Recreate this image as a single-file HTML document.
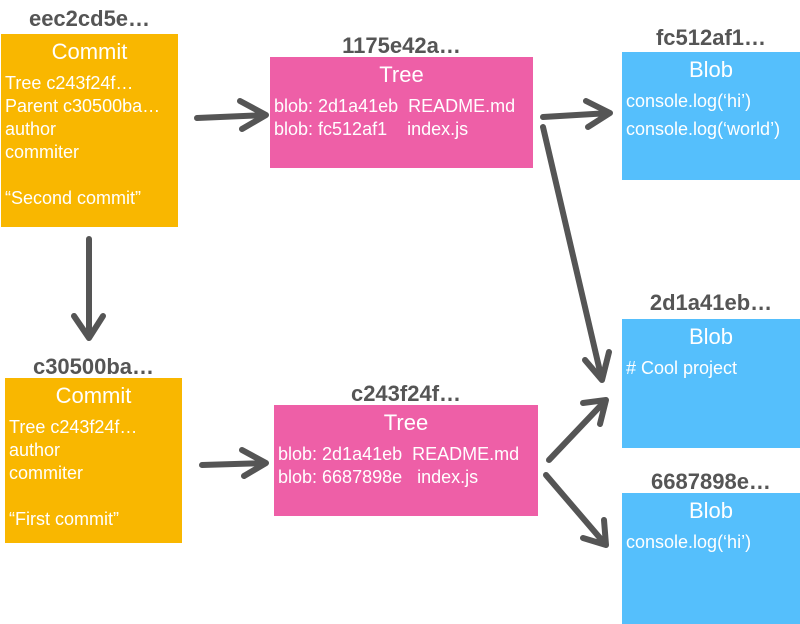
<!DOCTYPE html>
<html><head><style>
body{margin:0;width:800px;height:624px;background:#fff;position:relative;overflow:hidden;font-family:"Liberation Sans",sans-serif}
.b{position:absolute;color:#fff;font-size:18px;line-height:23px}
.b .t{text-align:center;font-size:22px;line-height:26px;margin-top:5px;margin-bottom:7px}
.b .l{padding-left:4px;white-space:pre}
.c .l{line-height:28px;margin-top:-3px}
.h{position:absolute;color:#555;font-weight:bold;font-size:22px;text-align:center;line-height:26px}
.o{background:#f9b700}.p{background:#ee5fa7}.c{background:#55bffc}
</style></head><body>
<div class="h" style="left:1px;width:177px;top:6px">eec2cd5e…</div>
<div class="b o" style="left:1px;top:34px;width:177px;height:193px"><div class="t">Commit</div>
<div class="l">Tree c243f24f…
Parent c30500ba…
author
commiter

“Second commit”</div></div>

<div class="h" style="left:5px;width:177px;top:354px">c30500ba…</div>
<div class="b o" style="left:5px;top:378px;width:177px;height:165px"><div class="t">Commit</div>
<div class="l">Tree c243f24f…
author
commiter

“First commit”</div></div>

<div class="h" style="left:270px;width:263px;top:33px">1175e42a…</div>
<div class="b p" style="left:270px;top:57px;width:263px;height:111px"><div class="t">Tree</div>
<div class="l">blob: 2d1a41eb  README.md
blob: fc512af1    index.js</div></div>

<div class="h" style="left:274px;width:264px;top:381px">c243f24f…</div>
<div class="b p" style="left:274px;top:405px;width:264px;height:111px"><div class="t">Tree</div>
<div class="l">blob: 2d1a41eb  README.md
blob: 6687898e   index.js</div></div>

<div class="h" style="left:622px;width:178px;top:25px">fc512af1…</div>
<div class="b c" style="left:622px;top:52px;width:178px;height:128px"><div class="t">Blob</div>
<div class="l">console.log(‘hi’)
console.log(‘world’)</div></div>

<div class="h" style="left:622px;width:178px;top:290px">2d1a41eb…</div>
<div class="b c" style="left:622px;top:319px;width:178px;height:129px"><div class="t">Blob</div>
<div class="l"># Cool project</div></div>

<div class="h" style="left:622px;width:178px;top:469px">6687898e…</div>
<div class="b c" style="left:622px;top:493px;width:178px;height:131px"><div class="t">Blob</div>
<div class="l">console.log(‘hi’)</div></div>

<svg width="800" height="624" style="position:absolute;left:0;top:0" fill="none" stroke="#555" stroke-width="6" stroke-linecap="round" stroke-linejoin="round">
<path d="M197 118 L266 115 M240 101 L266 115 L242 129"/>
<path d="M543 117 L610 113 M586 101 L610 113 L588 127"/>
<path d="M89 239 L89 338 M74 316 L89 338 L103 316"/>
<path d="M202 465 L266 463 M242 450 L266 463 L244 476"/>
<path d="M543 127 L602 380 M585 360 L602 380 L609 352"/>
<path d="M549 460 L606 400 M583 403 L606 400 L600 424"/>
<path d="M546 475 L606 545 M604 520 L606 545 L583 538"/>
</svg>
</body></html>
